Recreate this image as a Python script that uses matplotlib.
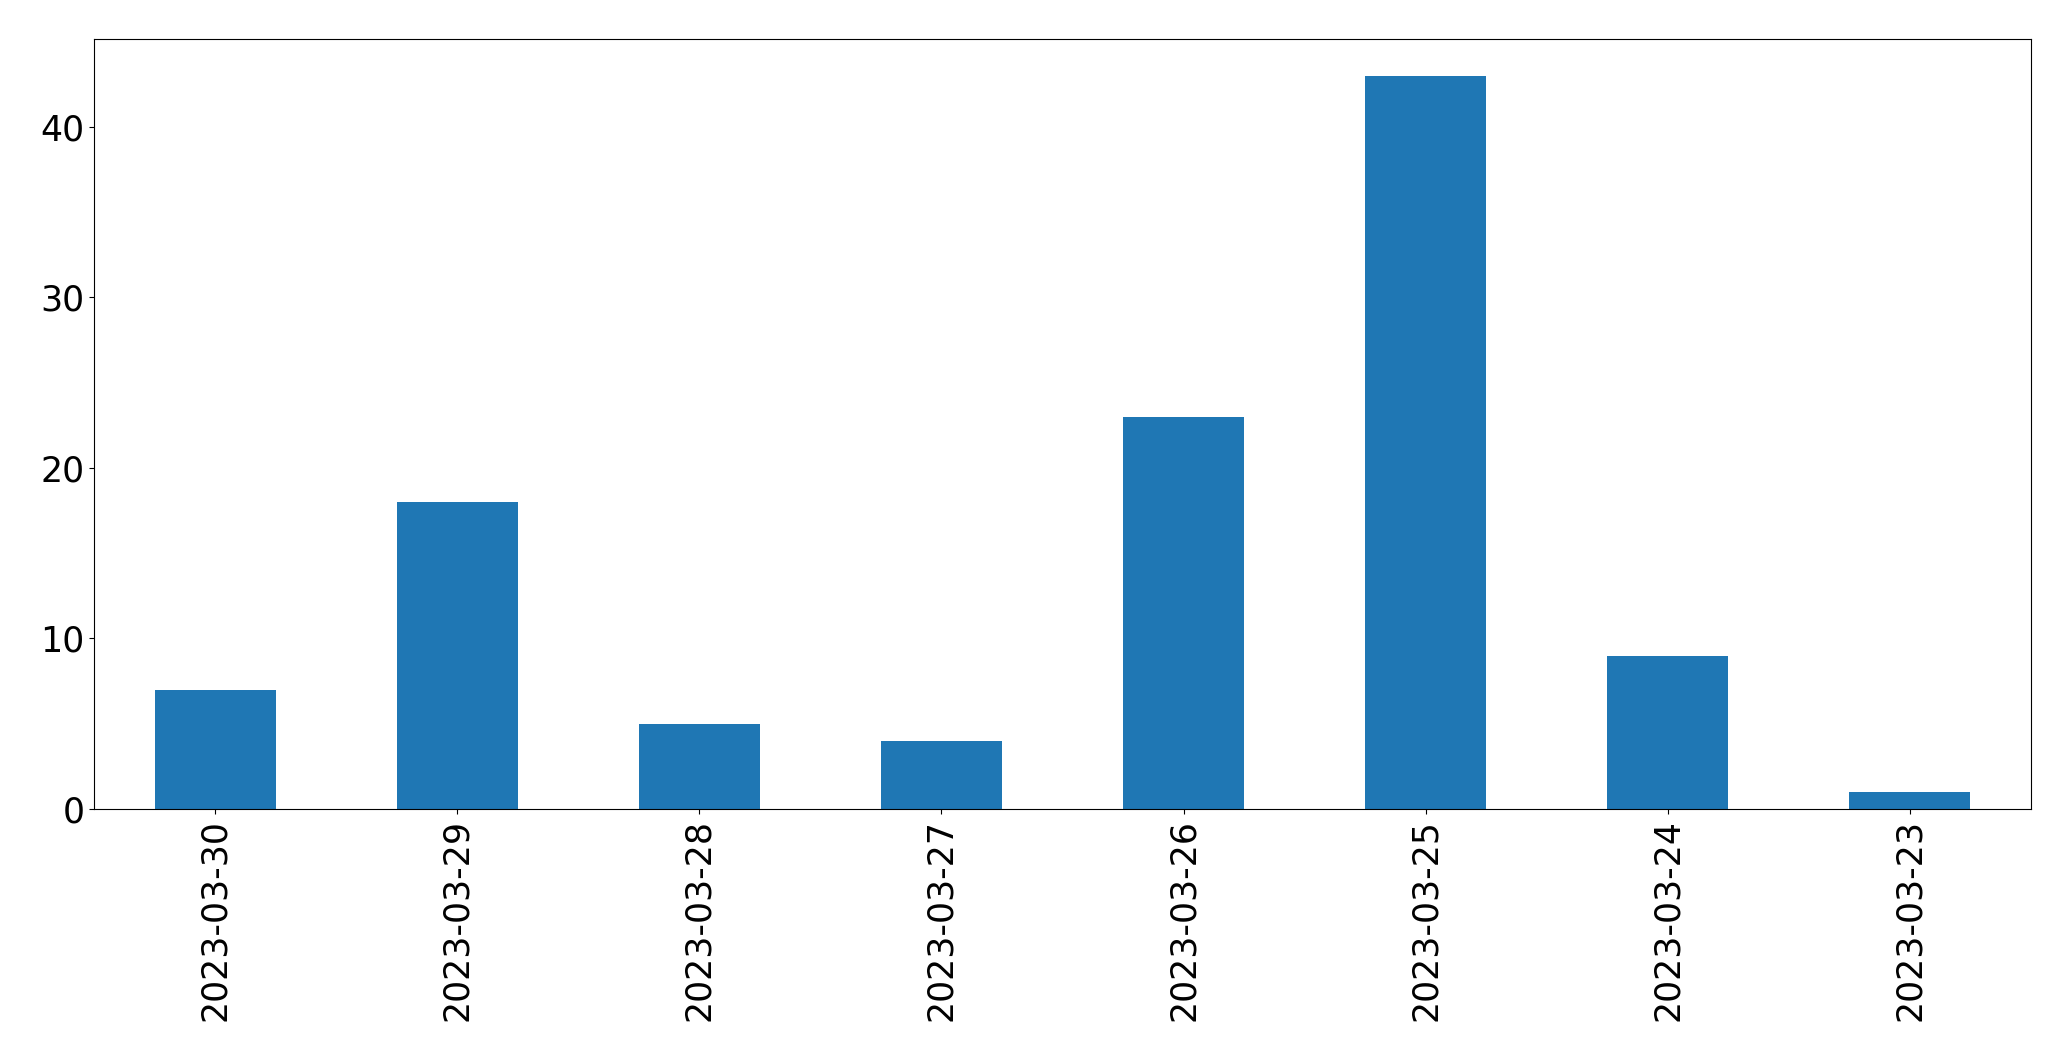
import matplotlib
matplotlib.use("Agg")
import matplotlib.pyplot as plt
import pandas as pd

dates = ["2023-03-30", "2023-03-29", "2023-03-28", "2023-03-27",
         "2023-03-26", "2023-03-25", "2023-03-24", "2023-03-23"]
counts = [7, 18, 5, 4, 23, 43, 9, 1]

s = pd.Series(counts, index=dates)

fig = plt.figure(figsize=(20.71, 10.61), dpi=100)
ax = fig.add_axes([94 / 2071, 1 - 809 / 1061, (2031 - 94) / 2071, (809 - 39) / 1061])
s.plot(kind="bar", ax=ax, color="#1f77b4")
ax.tick_params(axis="both", labelsize=25)
ax.tick_params(axis="x", labelrotation=90)

fig.savefig("out.png", dpi=100)
